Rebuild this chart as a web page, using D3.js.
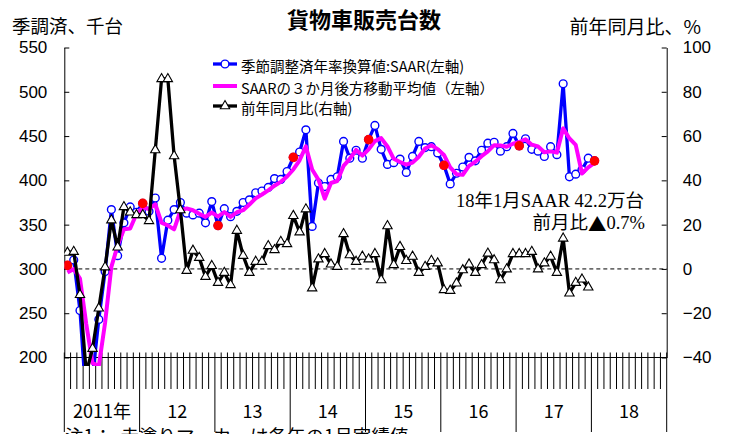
<!DOCTYPE html>
<html>
<head>
<meta charset="utf-8">
<script src="https://cdn.jsdelivr.net/npm/d3@7"></script>
<style>
  html, body { margin: 0; padding: 0; background: #fff; }
  svg { display: block; }
  .jp { font-family: "Noto Sans CJK JP", "Noto Sans", sans-serif; }
  .num { font-family: "Liberation Sans", Arial, sans-serif; }
</style>
</head>
<body>
<svg id="chart" width="729" height="434"></svg>
<script>
// Year labels for the two-level month axis (Jan 2011 .. Dec 2018)
const yearLabels = ["2011年", "12", "13", "14", "15", "16", "17", "18"];

// Truck sales, seasonally adjusted annual rate (thousand units), Jan 2011 .. Jan 2018
const saar = [
  304, 310, 253, 150, 178, 243, 297, 367, 315, 352, 370, 364,
  374, 365, 380, 312, 355, 367, 375, 363, 361, 363, 352, 376,
  349, 368, 359, 365, 375, 378, 386, 388, 392, 402, 401, 410,
  426, 432, 457, 348, 397, 393, 401, 404, 444, 425, 434, 425,
  446, 462, 435, 418, 420, 424, 409, 427, 444, 437, 438, 431,
  417, 396, 408, 415, 426, 422, 434, 442, 443, 433, 438, 453,
  439, 447, 435, 433, 427, 438, 429, 509, 404, 407, 412, 425,
  422
];

// Three-month trailing average of the SAAR, Jan 2011 .. Jan 2018
const saarAvg3 = [
  296, 300, 289, 237.7, 193.7, 190.3, 239.3, 302.3, 326.3, 344.7, 345.7, 362,
  369.3, 367.7, 373, 352.3, 349, 344.7, 365.7, 368.3, 366.3, 362.3, 358.7, 363.7,
  359, 364.3, 358.7, 364, 366.3, 372.7, 379.7, 384, 388.7, 394, 398.3, 404.3,
  412.3, 422.7, 438.3, 412.3, 400.7, 379.3, 397, 399.3, 416.3, 424.3, 434.3, 428,
  435, 444.3, 447.7, 438.3, 424.3, 420.7, 417.7, 420, 426.7, 436, 439.7, 435.3,
  428.7, 414.7, 407, 406.3, 416.3, 421, 427.3, 432.7, 439.7, 439.3, 438, 441.3,
  443.3, 446.3, 440.3, 438.3, 431.7, 432.7, 431.3, 458.7, 447.3, 440, 407.7, 414.7,
  419.7
];

// Year-on-year change (%), Jan 2011 .. Dec 2017
const yoy = [
  7.4, 7.8, -11.7, -47, -36, -17.8, 0.8, 22, 9.8, 28, 25.6, 24.4,
  24.4, 21.7, 53.7, 85.8, 85.8, 51, 26.6, -0.8, 8.3, 5.1, -3.5, 1.4,
  -6.2, -1.7, -7.2, 17.3, 6, -1.7, 3.3, 3.3, 10.4, 8.6, 12.3, 11.3,
  24, 16.6, 27, -8.7, 4.4, 6.8, 2.1, 1, 15.8, 6.3, 3.3, 5.6,
  4.4, 6.8, -5, 19.4, 1.8, 10, 3.7, 5.6, -1.7, 1, 3.7, 2.6,
  -9.5, -9.8, -6.5, -0.5, 2.1, -1.7, 1.8, 7, 4, -5, -0.1, 6.8,
  6.8, 6.8, 7.8, -0.1, 2.6, 5.6, -1.7, 13.8, -11, -6.2, -4.7, -8.3
];

const leftTicks = [200, 250, 300, 350, 400, 450, 500, 550];
const rightTicks = [-40, -20, 0, 20, 40, 60, 80, 100];

const legendItems = [
  "季節調整済年率換算値:SAAR(左軸)",
  "SAARの３か月後方移動平均値（左軸）",
  "前年同月比(右軸)"
];

const svg = d3.select("#chart");
const pLeft = 64.3, pRight = 666.7, pTop = 47.5, pBottom = 357.5;
const nMonths = yearLabels.length * 12;

const x = d3.scaleLinear().domain([0, nMonths]).range([pLeft, pRight]);
const yL = d3.scaleLinear().domain([200, 550]).range([pBottom, pTop]);
const yR = d3.scaleLinear().domain([-40, 100]).range([pBottom, pTop]);
const cx = i => x(i + 0.5);

// Plot clip (the series run slightly past the floor of the axis)
svg.append("defs").append("clipPath").attr("id", "plotClip")
  .append("rect").attr("x", pLeft).attr("y", pTop - 10)
  .attr("width", pRight - pLeft).attr("height", 366 - (pTop - 10));

// Titles
svg.append("text").attr("class", "jp")
  .attr("x", 364).attr("y", 18).attr("text-anchor", "middle")
  .attr("dominant-baseline", "central")
  .attr("font-size", 22).attr("font-weight", "bold")
  .text("貨物車販売台数");
svg.append("text").attr("class", "jp")
  .attr("x", 12).attr("y", 25).attr("dominant-baseline", "central")
  .attr("font-size", 18.5).text("季調済、千台");
svg.append("text").attr("class", "jp")
  .attr("x", 701).attr("y", 25).attr("text-anchor", "end")
  .attr("dominant-baseline", "central")
  .attr("font-size", 19).text("前年同月比、%");

// Left axis
const gL = svg.append("g").attr("transform", `translate(${pLeft},0)`)
  .call(d3.axisLeft(yL).tickValues(leftTicks).tickSizeInner(-5)
    .tickSizeOuter(0).tickPadding(17));
// Right axis
const gR = svg.append("g").attr("transform", `translate(${pRight},0)`)
  .call(d3.axisRight(yR).tickValues(rightTicks).tickSizeInner(-5)
    .tickSizeOuter(0).tickPadding(16).tickFormat(d => d < 0 ? "−" + Math.abs(d) : d));
[gL, gR].forEach(g => {
  g.selectAll("path.domain").attr("stroke", "#000").attr("stroke-width", 1);
  g.selectAll(".tick line").attr("stroke", "#000").attr("stroke-width", 1);
  g.selectAll(".tick text").attr("class", "num").attr("font-size", 17)
    .attr("fill", "#000");
});

// Bottom axis line with month and year divisions
const gX = svg.append("g");
gX.append("line").attr("x1", pLeft).attr("x2", pRight)
  .attr("y1", pBottom).attr("y2", pBottom).attr("stroke", "#000");
const bounds = d3.range(nMonths + 1);
gX.selectAll("line.m").data(bounds).join("line").attr("class", "m")
  .attr("x1", d => x(d)).attr("x2", d => x(d))
  .attr("y1", pBottom - 5).attr("y2", d => d % 12 === 0 ? 432 : 389)
  .attr("stroke", "#000").attr("stroke-width", 1);
gX.selectAll("text.yr").data(yearLabels).join("text").attr("class", "yr jp")
  .attr("x", (d, k) => x(k * 12 + 6)).attr("y", 410)
  .attr("text-anchor", "middle").attr("dominant-baseline", "central")
  .attr("font-size", 18).text(d => d);

// Zero line of the right axis
svg.append("line").attr("x1", pLeft).attr("x2", pRight)
  .attr("y1", yR(0)).attr("y2", yR(0))
  .attr("stroke", "#000").attr("stroke-width", 1).attr("stroke-dasharray", "4,3");

const plot = svg.append("g").attr("clip-path", "url(#plotClip)");

// SAAR line with open circles
plot.append("path").datum(saar)
  .attr("d", d3.line().x((d, i) => cx(i)).y(d => yL(d)))
  .attr("fill", "none").attr("stroke", "#0000ff").attr("stroke-width", 3.3)
  .attr("stroke-linejoin", "round");
plot.selectAll("circle.s").data(saar).join("circle").attr("class", "s")
  .attr("cx", (d, i) => cx(i)).attr("cy", d => yL(d)).attr("r", 3.9)
  .attr("fill", "#fff").attr("stroke", "#0000ff").attr("stroke-width", 1.4);

// Three-month average
plot.append("path").datum(saarAvg3)
  .attr("d", d3.line().x((d, i) => cx(i)).y(d => yL(d)))
  .attr("fill", "none").attr("stroke", "#ff00ff").attr("stroke-width", 4)
  .attr("stroke-linejoin", "round");

// January results in solid red
plot.selectAll("circle.jan").data(saar.map((v, i) => [i, v]).filter(d => d[0] % 12 === 0))
  .join("circle").attr("class", "jan")
  .attr("cx", d => cx(d[0])).attr("cy", d => yL(d[1])).attr("r", 4.8)
  .attr("fill", "#ff0000");

// Year-on-year line with open triangles
plot.append("path").datum(yoy)
  .attr("d", d3.line().x((d, i) => cx(i)).y(d => yR(d)))
  .attr("fill", "none").attr("stroke", "#000").attr("stroke-width", 3.3)
  .attr("stroke-linejoin", "round");
const tri = d3.symbol().type(d3.symbolTriangle).size(38);
plot.selectAll("path.t").data(yoy).join("path").attr("class", "t")
  .attr("d", tri)
  .attr("transform", (d, i) => `translate(${cx(i)},${yR(d)})`)
  .attr("fill", "#fff").attr("stroke", "#000").attr("stroke-width", 1.1);

// Legend
const lg = svg.append("g");
const lgY = [64, 86, 106];
const lgColor = ["#0000ff", "#ff00ff", "#000"];
legendItems.forEach((t, k) => {
  lg.append("line").attr("x1", 213).attr("x2", 237)
    .attr("y1", lgY[k]).attr("y2", lgY[k])
    .attr("stroke", lgColor[k]).attr("stroke-width", k === 1 ? 4 : 3.3);
  lg.append("text").attr("class", "jp").attr("x", 241).attr("y", lgY[k] + 1)
    .attr("dominant-baseline", "central").attr("font-size", 14.5)
    .attr("fill", "#000").text(t);
});
lg.append("circle").attr("cx", 225).attr("cy", lgY[0]).attr("r", 3.9)
  .attr("fill", "#fff").attr("stroke", "#0000ff").attr("stroke-width", 1.4);
lg.append("path").attr("d", tri).attr("transform", `translate(225,${lgY[2]})`)
  .attr("fill", "#fff").attr("stroke", "#000").attr("stroke-width", 1.1);

// Latest reading
const latest = saar[saar.length - 1];
const ann = svg.append("g").attr("font-family", "'Liberation Serif', 'Noto Sans CJK JP', serif")
  .attr("font-size", 18.5).attr("text-anchor", "end");
ann.append("text").attr("x", 644).attr("y", 200.5).attr("dominant-baseline", "central")
  .text(`18年1月SAAR ${(latest / 10).toFixed(1)}万台`);
const ann2 = ann.append("text").attr("x", 645).attr("y", 222.5)
  .attr("dominant-baseline", "central");
ann2.append("tspan").text("前月比");
ann2.append("tspan").attr("font-family", "'Noto Sans CJK JP', sans-serif").text("▲");
ann2.append("tspan").text("0.7%");

// Footnote (runs off the bottom edge)
svg.append("text").attr("class", "jp").attr("x", 65).attr("y", 443)
  .attr("font-size", 18.5).attr("xml:space", "preserve")
  .text("注1：  赤塗りマーカーは各年の1月実績値");
</script>
</body>
</html>
